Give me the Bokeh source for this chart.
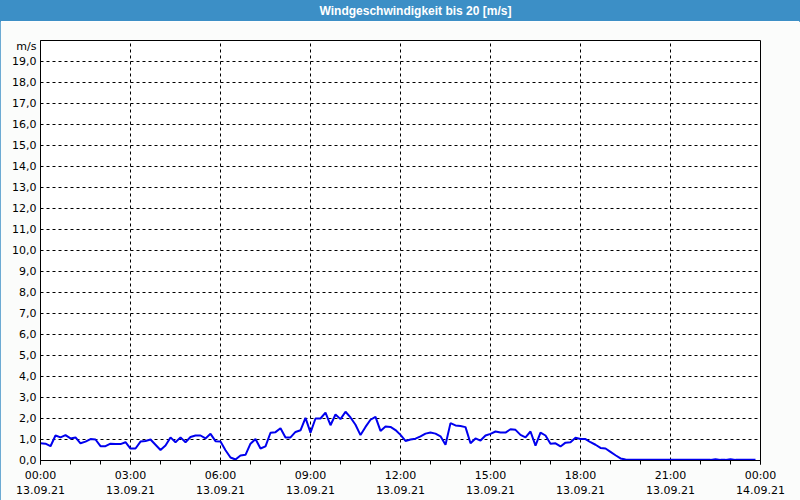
from bokeh.plotting import figure
from bokeh.layouts import column
from bokeh.models import FixedTicker, ColumnDataSource
from bokeh.core.properties import value
from bokeh.embed import file_html
from bokeh.resources import INLINE

title_text = "Windgeschwindigkeit bis 20 [m/s]"

times = ["00:00", "00:10", "00:20", "00:30", "00:40", "00:50",
         "01:00", "01:10", "01:20", "01:30", "01:40", "01:50",
         "02:00", "02:10", "02:20", "02:30", "02:40", "02:50",
         "03:00", "03:10", "03:20", "03:30", "03:40", "03:50",
         "04:00", "04:10", "04:20", "04:30", "04:40", "04:50",
         "05:00", "05:10", "05:20", "05:30", "05:40", "05:50",
         "06:00", "06:10", "06:20", "06:30", "06:40", "06:50",
         "07:00", "07:10", "07:20", "07:30", "07:40", "07:50",
         "08:00", "08:10", "08:20", "08:30", "08:40", "08:50",
         "09:00", "09:10", "09:20", "09:30", "09:40", "09:50",
         "10:00", "10:10", "10:20", "10:30", "10:40", "10:50",
         "11:00", "11:10", "11:20", "11:30", "11:40", "11:50",
         "12:00", "12:10", "12:20", "12:30", "12:40", "12:50",
         "13:00", "13:10", "13:20", "13:30", "13:40", "13:50",
         "14:00", "14:10", "14:20", "14:30", "14:40", "14:50",
         "15:00", "15:10", "15:20", "15:30", "15:40", "15:50",
         "16:00", "16:10", "16:20", "16:30", "16:40", "16:50",
         "17:00", "17:10", "17:20", "17:30", "17:40", "17:50",
         "18:00", "18:10", "18:20", "18:30", "18:40", "18:50",
         "19:00", "19:10", "19:20", "19:30", "19:40", "19:50",
         "20:00", "20:10", "20:20", "20:30", "20:40", "20:50",
         "21:00", "21:10", "21:20", "21:30", "21:40", "21:50",
         "22:00", "22:10", "22:20", "22:30", "22:40", "22:50",
         "23:00", "23:10", "23:20", "23:30", "23:40", "23:50"]

speed = [0.82, 0.80, 0.68, 1.19, 1.10, 1.21,
         1.05, 1.10, 0.82, 0.90, 1.02, 1.00,
         0.68, 0.68, 0.80, 0.78, 0.78, 0.87,
         0.57, 0.57, 0.90, 0.93, 1.00, 0.75,
         0.50, 0.71, 1.10, 0.87, 1.10, 0.87,
         1.12, 1.19, 1.19, 1.05, 1.27, 0.92,
         0.90, 0.49, 0.14, 0.05, 0.24, 0.27,
         0.80, 1.02, 0.57, 0.67, 1.32, 1.35,
         1.54, 1.10, 1.10, 1.36, 1.44, 2.03,
         1.33, 2.00, 2.00, 2.28, 1.68, 2.19,
         1.97, 2.32, 2.05, 1.70, 1.21, 1.60,
         1.94, 2.08, 1.41, 1.62, 1.60, 1.45,
         1.22, 0.93, 1.00, 1.04, 1.15, 1.28,
         1.33, 1.28, 1.15, 0.75, 1.78, 1.67,
         1.64, 1.59, 0.82, 1.05, 0.95, 1.19,
         1.27, 1.38, 1.33, 1.33, 1.49, 1.46,
         1.22, 1.10, 1.38, 0.71, 1.33, 1.19,
         0.80, 0.82, 0.67, 0.85, 0.87, 1.08,
         1.02, 1.02, 0.87, 0.75, 0.60, 0.57,
         0.41, 0.25, 0.10, 0.05, 0.03, 0.03,
         0.03, 0.03, 0.03, 0.03, 0.03, 0.03,
         0.03, 0.03, 0.03, 0.03, 0.03, 0.03,
         0.03, 0.03, 0.03, 0.06, 0.03, 0.03,
         0.06, 0.03, 0.03, 0.03, 0.03, 0.03]

x_tick_hours = [0, 3, 6, 9, 12, 15, 18, 21, 24]
x_tick_labels = ["00:00\n13.09.21", "03:00\n13.09.21", "06:00\n13.09.21",
                 "09:00\n13.09.21", "12:00\n13.09.21", "15:00\n13.09.21",
                 "18:00\n13.09.21", "21:00\n13.09.21", "00:00\n14.09.21"]
x_minor_hours = list(range(0, 25))

y_ticks = list(range(0, 20))
y_tick_labels = ["%d,0" % v for v in y_ticks]
y_unit_label = "m/s"
y_unit_pos = 19.72

BLUE = "#3c8fc6"
BG = "#fbfcfb"
FONT = "DejaVu Sans"

hours = [int(t[:2]) + int(t[3:]) / 60.0 for t in times]
src = ColumnDataSource(dict(h=hours, v=speed))

# title bar
tb = figure(width=800, height=21, x_range=(0, 800), y_range=(0, 21),
            toolbar_location=None, output_backend="svg", min_border=0)
tb.axis.visible = False
tb.grid.visible = False
tb.outline_line_color = None
tb.background_fill_color = BLUE
tb.border_fill_color = BLUE
tb.quad(left=[0], right=[800], bottom=[0], top=[21], fill_color=BLUE,
        line_color=BLUE, line_width=2)
tb.text(x=[415], y=[10.5], text=[title_text], text_align="center",
        text_baseline="middle", text_color="white",
        text_font=value("Liberation Sans"), text_font_style="bold",
        text_font_size="12px")

# main chart
p = figure(width=800, height=479, x_range=(0, 24), y_range=(0, 20),
           toolbar_location=None, output_backend="svg",
           min_border_left=40, min_border_right=40,
           min_border_top=19, min_border_bottom=40)
p.background_fill_color = "white"
p.border_fill_color = BG
p.outline_line_color = "black"
p.outline_line_width = 1

if "frame_align" in tb.properties():
    tb.frame_align = False
    p.frame_align = False

p.line("h", "v", source=src, line_color="#0000ee", line_width=2)

xa = p.xaxis[0]
xa.ticker = FixedTicker(ticks=x_tick_hours, minor_ticks=x_minor_hours)
xa.major_label_overrides = {h: l for h, l in zip(x_tick_hours, x_tick_labels)}
xa.major_tick_out = 4
xa.major_tick_in = 0
xa.minor_tick_out = 4
xa.minor_tick_in = 0
xa.major_tick_line_color = "black"
xa.minor_tick_line_color = "black"
xa.axis_line_color = "black"
xa.major_label_standoff = 4
xa.major_label_text_font = FONT
xa.major_label_text_font_size = "11px"
xa.major_label_text_color = "black"

ya = p.yaxis[0]
ya.ticker = FixedTicker(ticks=y_ticks + [y_unit_pos], minor_ticks=[])
ovr = {t: l for t, l in zip(y_ticks, y_tick_labels)}
ovr[y_unit_pos] = y_unit_label
ya.major_label_overrides = ovr
ya.major_tick_out = 0
ya.major_tick_in = 0
ya.minor_tick_out = 0
ya.axis_line_color = "black"
ya.major_label_standoff = 4
ya.major_label_text_font = FONT
ya.major_label_text_font_size = "11px"
ya.major_label_text_color = "black"

p.xgrid.ticker = FixedTicker(ticks=x_tick_hours)
p.ygrid.ticker = FixedTicker(ticks=y_ticks)
for g in (p.xgrid[0], p.ygrid[0]):
    g.grid_line_color = "black"
    g.grid_line_dash = "3 3"
    g.grid_line_width = 1

layout = column(tb, p, spacing=0,
                styles={"outline": "1px solid " + BLUE, "outline-offset": "-1px"})

open("out.html", "w").write(file_html(layout, INLINE))
